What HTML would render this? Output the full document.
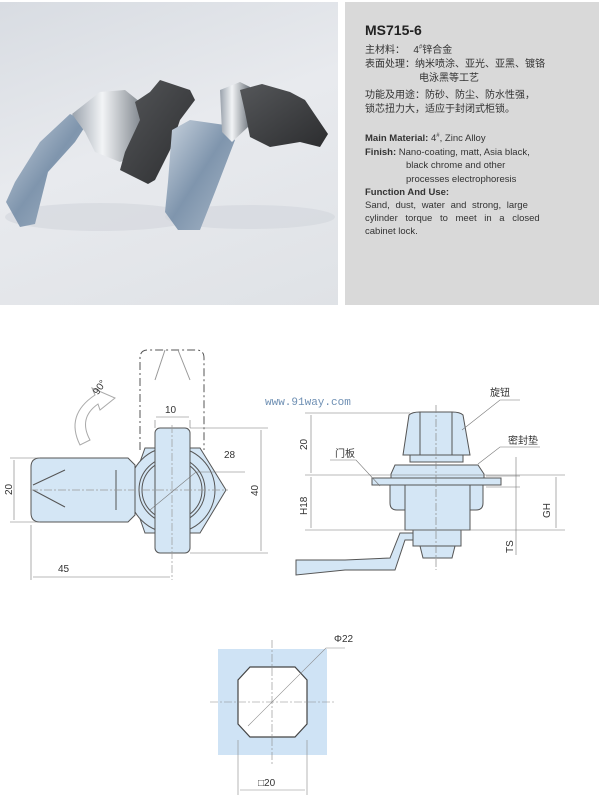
<!DOCTYPE html>
<html><head><meta charset="utf-8"><style>
body{margin:0;width:600px;height:804px;background:#fff;position:relative;overflow:hidden;font-family:"Liberation Sans","Noto Sans CJK SC",sans-serif}
#photo{position:absolute;left:0;top:2px;width:338px;height:303px;background:linear-gradient(160deg,#d8dce2 0%,#e8eaee 45%,#dfe2e6 100%)}
#panel{position:absolute;left:345px;top:2px;width:254px;height:303px;background:#d9d9d9;color:#333}
.t{position:absolute;white-space:nowrap}
</style></head><body>
<div id="photo">
<svg width="338" height="303">
<defs>
<linearGradient id="st" x1="0" y1="0" x2="1" y2="1"><stop offset="0" stop-color="#c9d3de"/><stop offset="0.5" stop-color="#7f95ad"/><stop offset="1" stop-color="#a9b8c8"/></linearGradient>
<linearGradient id="ch" x1="0" y1="0" x2="1" y2="0"><stop offset="0" stop-color="#9aa2ac"/><stop offset="0.4" stop-color="#f2f4f6"/><stop offset="1" stop-color="#6d747c"/></linearGradient>
<linearGradient id="bk" x1="0" y1="0" x2="1" y2="1"><stop offset="0" stop-color="#55575a"/><stop offset="1" stop-color="#2c2d2f"/></linearGradient>
</defs>
<ellipse cx="100" cy="215" rx="95" ry="14" fill="#d2d6dc" opacity="0.6"/>
<ellipse cx="250" cy="215" rx="85" ry="12" fill="#d2d6dc" opacity="0.6"/>
<path d="M6 200 L20 225 L35 222 L48 170 L75 140 L88 120 L70 112 L40 140 L15 180 Z" fill="url(#st)"/>
<path d="M72 112 L100 90 L125 88 L140 100 L148 150 L120 160 L95 150 L85 130 Z" fill="url(#ch)"/>
<path d="M160 78 L190 88 L195 98 L180 118 L170 148 L155 178 L148 182 L120 168 L125 150 L140 118 L135 100 L150 90 Z" fill="url(#bk)"/>
<path d="M168 180 L172 128 L190 118 L225 123 L235 138 L215 190 L200 228 L178 228 L165 210 Z" fill="url(#st)"/>
<path d="M220 88 L240 80 L250 85 L248 125 L232 140 L222 130 Z" fill="url(#ch)"/>
<path d="M240 88 L262 82 L290 90 L305 98 L328 132 L320 145 L300 140 L270 145 L250 135 L245 110 Z" fill="url(#bk)"/>
</svg>
</div>
<div id="panel">
<div class="t" style="left:20px;top:20px;font-size:14px;font-weight:bold;color:#222">MS715-6</div>
<div class="t" style="left:20px;top:39px;font-size:10px">主材料：&nbsp;&nbsp; 4<sup style="font-size:6px">#</sup>锌合金</div>
<div class="t" style="left:20px;top:53px;font-size:10px">表面处理：纳米喷涂、亚光、亚黑、镀铬</div>
<div class="t" style="left:74px;top:67px;font-size:10px">电泳黑等工艺</div>
<div class="t" style="left:20px;top:84px;font-size:10px">功能及用途：防砂、防尘、防水性强，</div>
<div class="t" style="left:20px;top:98px;font-size:10px">锁芯扭力大，适应于封闭式柜锁。</div>
<div class="t" style="left:20px;top:131px;font-size:9.5px"><b>Main Material:</b> 4<sup style="font-size:6px">#</sup>, Zinc Alloy</div>
<div class="t" style="left:20px;top:145px;font-size:9.5px"><b>Finish:</b> Nano-coating, matt, Asia black,</div>
<div class="t" style="left:61px;top:158px;font-size:9.5px">black chrome and other</div>
<div class="t" style="left:61px;top:172px;font-size:9.5px">processes electrophoresis</div>
<div class="t" style="left:20px;top:185px;font-size:9.5px;font-weight:bold">Function And Use:</div>
<div class="t" style="left:20px;top:198px;font-size:9.5px;word-spacing:3px">Sand, dust, water and strong, large</div>
<div class="t" style="left:20px;top:211px;font-size:9.5px;word-spacing:5px">cylinder torque to meet in a closed</div>
<div class="t" style="left:20px;top:224px;font-size:9.5px">cabinet lock.</div>
</div>
<svg style="position:absolute;left:0;top:0" width="600" height="804" font-family="Liberation Sans,Noto Sans CJK SC,sans-serif" font-size="10" fill="#333">
<g stroke="#555" stroke-width="1" fill="none">
<path d="M140 450 V358 Q140 350 148 350 H196 Q204 350 204 358 V450" stroke-dasharray="8,3,2,3"/>
<path d="M155 380 L165 350 M178 350 L190 380" stroke="#999"/>
<path d="M145 448 H200 L226 490 L200 533 H145 L130 490 Z" fill="#d4e6f5"/>
<circle cx="172" cy="490" r="43" fill="#d4e6f5"/>
<circle cx="172" cy="490" r="33"/>
<circle cx="172" cy="490" r="30"/>
<path d="M40 458 H128 L135 465 V515 L128 522 H40 Q31 522 31 513 V467 Q31 458 40 458 Z" fill="#d4e6f5"/>
<path d="M33 485 L65 470 M33 490 L65 507 M116 470 V510"/>
<rect x="155" y="428" width="35" height="125" rx="5" fill="#d4e6f5"/>
<path d="M30 490 H228 M172 425 V580" stroke="#999" stroke-dasharray="8,2,2,2" stroke-width="0.7"/>
<g stroke="#777" stroke-width="0.6">
<path d="M10 458 H40 M10 522 H40 M14 460 V520"/>
<path d="M190 428 H268 M190 553 H268 M261 430 V551"/>
<path d="M31 525 V580 M33 577 H170"/>
<path d="M155 420 V428 M190 420 V428 M156 417 H189"/>
<path d="M150 510 L196 472 H245"/>
</g>
<path d="M80 445 Q65 415 95 395 L92 388 L115 398 L100 410 L98 404 Q78 418 90 440 Z" stroke="#aaa" fill="#fff"/>
</g>
<g font-size="10">
<text x="104" y="413" transform="rotate(-55 84 410)">90°</text>
<text x="165" y="413">10</text>
<text x="224" y="458">28</text>
<text x="58" y="572">45</text>
<text transform="translate(12 495) rotate(-90)">20</text>
<text transform="translate(258 496) rotate(-90)">40</text>
</g>
<text x="265" y="405" font-family="Liberation Mono,monospace" font-size="11" fill="#6e8fb3">www.91way.com</text>
<g stroke="#555" stroke-width="1" fill="#d4e6f5">
<path d="M409 415 Q412 412 420 412 H452 Q460 412 463 415 L470 455 H403 Z"/>
<path d="M420 412 V455 M452 412 V455" fill="none"/>
<path d="M410 455 H463 V462 H410 Z"/>
<path d="M395 465 H478 L484 474 V478 H391 V474 Z"/>
<rect x="372" y="478" width="129" height="7"/>
<path d="M390 485 H483 V503 Q483 510 476 510 H397 Q390 510 390 503 Z"/>
<rect x="405" y="485" width="65" height="45"/>
<rect x="413" y="530" width="48" height="16"/>
<path d="M420 546 H455 L452 558 H423 Z"/>
<path d="M296 560 L345 560 L390 558 L400 533 L413 533 L413 540 L405 540 L395 570 L345 570 L296 575 Z"/>
</g>
<path d="M436 405 V570" stroke="#888" stroke-width="0.7" stroke-dasharray="8,2,2,2"/>
<g stroke="#777" stroke-width="0.6" fill="none">
<path d="M305 413 H410 M305 475 H565 M305 530 H565 M311 415 V473 M311 477 V528"/>
<path d="M486 476 H520 M486 487 H520 M516 457 V555 M556 477 V528"/>
<path d="M462 430 L500 400 H520 M478 464 L500 447 H540 M380 486 L356 460 H330"/>
</g>
<text x="490" y="396" font-size="10">旋钮</text>
<text x="508" y="444" font-size="10">密封垫</text>
<text x="335" y="457" font-size="10">门板</text>
<text transform="translate(307 450) rotate(-90)">20</text>
<text transform="translate(307 515) rotate(-90)">H18</text>
<text transform="translate(550 518) rotate(-90)">GH</text>
<text transform="translate(513 553) rotate(-90)">TS</text>
<rect x="218" y="649" width="109" height="106" fill="#cfe3f5"/>
<path d="M250 667 H295 L307 680 V724 L295 737 H250 L238 724 V680 Z" fill="#fff" stroke="#444" stroke-width="1.2"/>
<g stroke="#888" stroke-width="0.6" fill="none">
<path d="M210 702 H335 M272 640 V765" stroke-dasharray="8,2,2,2"/>
<path d="M248 726 L326 648 H345 M238 740 V795 M307 740 V795 M240 790 H305"/>
</g>
<text x="334" y="642" font-size="10">Φ22</text>
<text x="258" y="786" font-size="10">□20</text>
</svg>
</body></html>
